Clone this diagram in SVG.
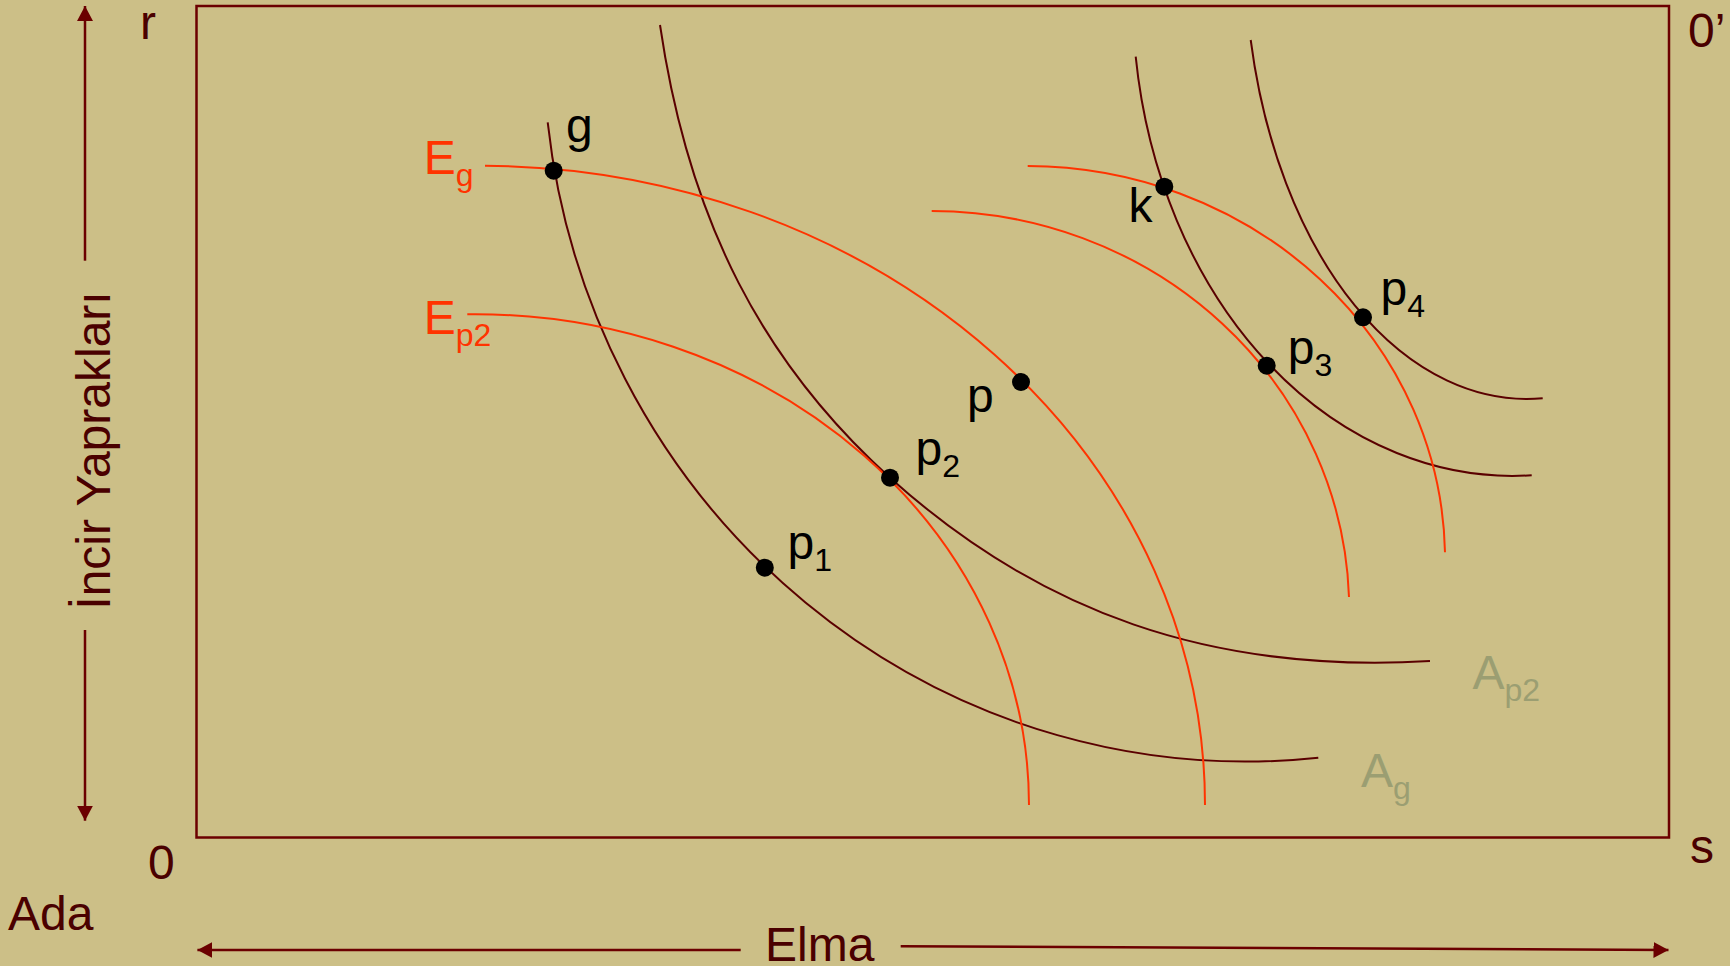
<svg xmlns="http://www.w3.org/2000/svg" width="1730" height="966" viewBox="0 0 1730 966">
<defs>
<marker id="ah" viewBox="0 0 15 16" refX="15" refY="8" markerWidth="15" markerHeight="16" markerUnits="userSpaceOnUse" orient="auto">
<path d="M0,0 L15,8 L0,16 z" fill="#6b0000"/>
</marker>
<style>
text{font-family:"Liberation Sans",Arial,sans-serif;font-size:48px}
.ax{fill:#4a0000}
.lbl{fill:#000}
.red{fill:#ff3300}
.gr{fill:#9b9e72}
.sub{font-size:32px}
.axis{stroke:#6b0000;stroke-width:2.5;fill:none}
.dk{stroke:#5a0000;stroke-width:2;fill:none}
.rd{stroke:#ff3300;stroke-width:2;fill:none}
.dot{fill:#000}
</style>
</defs>
<rect x="0" y="0" width="1730" height="966" fill="#ccbf87"/>
<rect id="frame" x="196.5" y="6" width="1472.5" height="831.5" fill="none" stroke="#6b0000" stroke-width="2.5"/>

<g id="axes">
<line class="axis" x1="85" y1="260.7" x2="85" y2="6" marker-end="url(#ah)"/>
<line class="axis" x1="85" y1="630" x2="85" y2="820.7" marker-end="url(#ah)"/>
<line class="axis" x1="740.7" y1="950" x2="197.4" y2="950" marker-end="url(#ah)"/>
<line class="axis" x1="900.7" y1="946.3" x2="1668.5" y2="950" marker-end="url(#ah)"/>
</g>

<g id="connectors">
<path id="A_g" class="dk" d="M547.7,122.3 A702.5,720 0 0 0 1318.3,757.7"/>
<path id="A_p2" class="dk" d="M660,25 C689,223 764,363.7 890,477.7 C1038.6,611.5 1210,674 1430,661"/>
<path id="A_k" class="dk" d="M1135.7,56.7 A380,480 0 0 0 1531.7,475.3"/>
<path id="A_p4" class="dk" d="M1250.7,40 A282,450 0 0 0 1542.7,398.3"/>
<path id="E_g" class="rd" d="M485,165.7 A725,639.5 0 0 1 1205,805"/>
<path id="E_p2" class="rd" d="M467.3,314.3 A554,491 0 0 1 1029,805"/>
<path id="E_p3" class="rd" d="M931.7,211 A418,399 0 0 1 1349,597"/>
<path id="E_k" class="rd" d="M1027.7,166 A419,394 0 0 1 1445,552.3"/>
</g>

<g id="node-g"><circle class="dot" cx="553.7" cy="170.7" r="9"/><text class="lbl" x="566" y="142">g</text></g>
<g id="node-p1"><circle class="dot" cx="764.8" cy="567.7" r="9"/><text class="lbl" x="787.5" y="558.5">p<tspan class="sub" dy="12">1</tspan></text></g>
<g id="node-p2"><circle class="dot" cx="890" cy="477.7" r="9"/><text class="lbl" x="915.5" y="465">p<tspan class="sub" dy="12">2</tspan></text></g>
<g id="node-p"><circle class="dot" cx="1021" cy="382" r="9"/><text class="lbl" x="967" y="412">p</text></g>
<g id="node-k"><circle class="dot" cx="1164.3" cy="186.7" r="9"/><text class="lbl" x="1128.5" y="221.7">k</text></g>
<g id="node-p3"><circle class="dot" cx="1266.7" cy="365.7" r="9"/><text class="lbl" x="1287.7" y="364">p<tspan class="sub" dy="12">3</tspan></text></g>
<g id="node-p4"><circle class="dot" cx="1363" cy="317.3" r="9"/><text class="lbl" x="1380.5" y="305">p<tspan class="sub" dy="12">4</tspan></text></g>

<g id="labels">
<text class="red" x="423.7" y="174">E<tspan class="sub" dy="12">g</tspan></text>
<text class="red" x="423.7" y="334.3">E<tspan class="sub" dy="12">p2</tspan></text>
<text class="gr" x="1472.5" y="689.3">A<tspan class="sub" dy="12">p2</tspan></text>
<text class="gr" x="1361" y="786.7">A<tspan class="sub" dy="12">g</tspan></text>
<text class="ax" x="140" y="39">r</text>
<text class="ax" x="148" y="879">0</text>
<text class="ax" x="8" y="930">Ada</text>
<text class="ax" x="1688" y="47">0’</text>
<text class="ax" x="1690" y="863">s</text>
<text class="ax" x="765" y="961">Elma</text>
<text class="ax" text-anchor="middle" transform="translate(110,450.5) rotate(-90)">İncir Yaprakları</text>
</g>
</svg>
